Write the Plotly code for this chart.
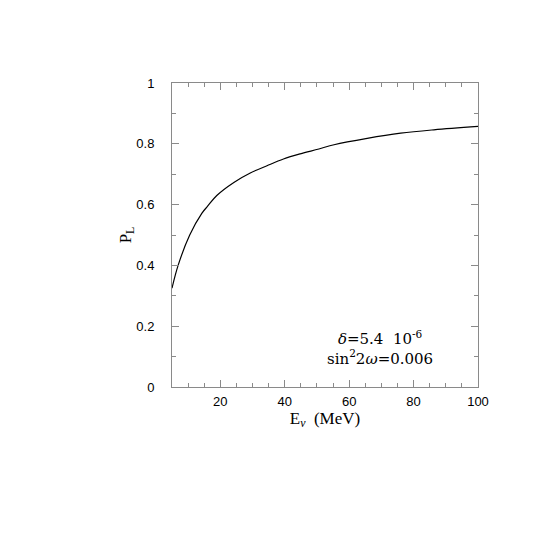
import plotly.graph_objects as go

# values
energy_mev = [5, 6.9, 10.5, 14.3, 16.0, 18.9, 24.2, 29.3, 34.5, 39.6, 44.8,
              50.6, 55.3, 65.6, 76, 86.3, 100]
p_l = [0.325, 0.40, 0.50, 0.572, 0.594, 0.630, 0.673, 0.704, 0.728, 0.750,
       0.767, 0.783, 0.797, 0.818, 0.835, 0.846, 0.857]

x_ticks = [20, 40, 60, 80, 100]
y_ticks = [0, 0.2, 0.4, 0.6, 0.8, 1]

AXIS_COLOR = "#8a8a8a"
SANS = "Liberation Sans, Arial, sans-serif"
SERIF = "Liberation Serif, Times New Roman, serif"
WIDE_SERIF = "DejaVu Serif, serif"

fig = go.Figure()
fig.add_trace(go.Scatter(
    x=energy_mev, y=p_l,
    mode="lines",
    line=dict(color="black", width=1.2, shape="spline", smoothing=1.0),
    showlegend=False,
))

axis_common = dict(
    showline=True, linecolor=AXIS_COLOR, linewidth=1,
    mirror="allticks", ticks="inside", ticklen=7, tickwidth=1,
    tickcolor=AXIS_COLOR, showgrid=False, zeroline=False,
    tickfont=dict(family=SANS, size=13, color="black"),
)

fig.update_xaxes(
    **axis_common,
    range=[5, 100], tickvals=x_ticks, ticklabelstandoff=2,
    minor=dict(ticks="inside", ticklen=4, tick0=0, dtick=5,
               tickcolor=AXIS_COLOR, showgrid=False),
    title=dict(text="E<sub><i>ν</i></sub>\u00a0\u00a0(MeV)",
               font=dict(family=SERIF, size=17, color="black"), standoff=2),
)
fig.update_yaxes(
    **axis_common,
    range=[0, 1], tickvals=y_ticks, ticklabelstandoff=14,
    minor=dict(ticks="inside", ticklen=4, tick0=0, dtick=0.1,
               tickcolor=AXIS_COLOR, showgrid=False),
    title=dict(text="P<sub>L</sub>",
               font=dict(family=SERIF, size=17, color="black"), standoff=0),
)

fig.add_annotation(
    x=0.680, y=0.127, xref="paper", yref="paper",
    text="<i>δ</i>=5.4\u00a0\u00a010<sup>-6</sup><br>sin<sup>2</sup>2<i>ω</i>=0.006",
    xanchor="center", yanchor="middle", align="center", showarrow=False,
    font=dict(family=WIDE_SERIF, size=15, color="black"),
)

# page body adds an 8px offset, so margins are shifted to match the reference frame
fig.update_layout(
    width=559, height=558,
    margin=dict(l=164, r=89, t=75, b=179),
    paper_bgcolor="white", plot_bgcolor="white",
)

fig.write_html("out.html")
